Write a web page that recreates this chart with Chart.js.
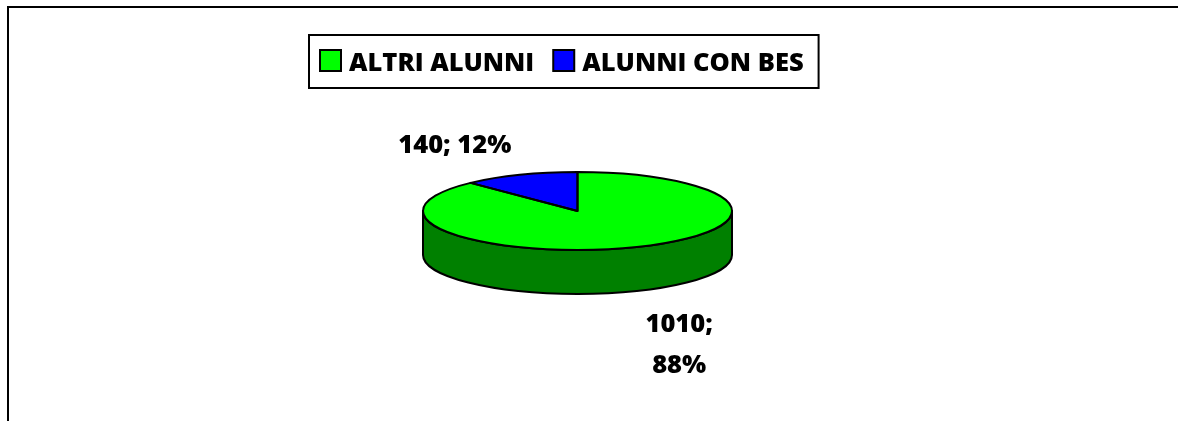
<!DOCTYPE html>
<html>
<head>
<meta charset="utf-8">
<script src="https://cdn.jsdelivr.net/npm/chart.js@4/dist/chart.umd.min.js"></script>
<style>
  html, body { margin: 0; padding: 0; background: #ffffff; overflow: hidden; }
  #wrap { width: 1178px; height: 421px; position: relative; }
  canvas { display: block; }
</style>
</head>
<body>
<div id="wrap"><canvas id="c" width="1178" height="421"></canvas></div>
<script>
// ---- data ----
const categories = ['ALTRI ALUNNI', 'ALUNNI CON BES'];
const values = [1010, 140];

// ---- styles ----
const topColors = ['#00FF00', '#0000FF'];
const sideColors = ['#008000', '#000080'];
const FONT = '800 25.5px "Open Sans", "Liberation Sans", sans-serif';
const TILT = 39 / 154.5;   // vertical squash of the pie
const DEPTH = 44;          // thickness of the 3D side
const labelWrap = [true, false];
const labelOffsets = [[44, 85], [-65, -22]]; // from slice mid point on rim (baseline of first line)
const LINE_H = 41;
const OUTLINE = 2;

const total = values.reduce((a, b) => a + b, 0);

function arcGeom(chart) {
  const meta = chart.getDatasetMeta(0);
  return meta.data.map(a => a.getProps(['x', 'y', 'startAngle', 'endAngle', 'outerRadius'], true));
}

const frame = {
  id: 'frame',
  beforeDraw(chart) {
    const ctx = chart.ctx;
    ctx.save();
    ctx.fillStyle = '#fff';
    ctx.fillRect(0, 0, chart.width, chart.height);
    ctx.fillStyle = '#000';
    ctx.fillRect(7, 6, chart.width - 7, 2);
    ctx.fillRect(7, 6, 2, chart.height - 6);
    ctx.restore();
  }
};

const pie3d = {
  id: 'pie3d',
  beforeDatasetsDraw(chart) {
    const ctx = chart.ctx;
    const arcs = arcGeom(chart);
    if (!arcs.length) return;
    const cx = arcs[0].x, cy = arcs[0].y, r = arcs[0].outerRadius, ry = r * TILT;
    ctx.save();
    arcs.forEach((a, i) => {
      [-2 * Math.PI, 0, 2 * Math.PI].forEach(m => {
        const lo = Math.max(a.startAngle, m), hi = Math.min(a.endAngle, m + Math.PI);
        if (lo < hi) {
          ctx.beginPath();
          ctx.ellipse(cx, cy, r, ry, 0, lo, hi);
          ctx.ellipse(cx, cy + DEPTH, r, ry, 0, hi, lo, true);
          ctx.closePath();
          ctx.fillStyle = sideColors[i];
          ctx.fill();
          ctx.lineWidth = OUTLINE;
          ctx.strokeStyle = '#000';
          ctx.lineJoin = 'round';
          ctx.stroke();
        }
      });
    });
    ctx.restore();
    ctx.save();
    ctx.translate(cx, cy);
    ctx.scale(1, TILT);
    ctx.translate(-cx, -cy);
  },
  afterDatasetsDraw(chart) {
    const ctx = chart.ctx;
    ctx.restore();
    const arcs = arcGeom(chart);
    if (!arcs.length) return;
    const cx = arcs[0].x, cy = arcs[0].y, r = arcs[0].outerRadius, ry = r * TILT;
    ctx.save();
    ctx.strokeStyle = '#000';
    ctx.lineWidth = OUTLINE;
    ctx.lineJoin = 'round';
    arcs.forEach(a => {
      ctx.beginPath();
      ctx.moveTo(cx, cy);
      ctx.ellipse(cx, cy, r, ry, 0, a.startAngle, a.endAngle);
      ctx.closePath();
      ctx.stroke();
    });
    ctx.font = FONT;
    ctx.fillStyle = '#000';
    ctx.textAlign = 'center';
    ctx.textBaseline = 'alphabetic';
    arcs.forEach((a, i) => {
      const mid = (a.startAngle + a.endAngle) / 2;
      const px = cx + r * Math.cos(mid), py = cy + ry * Math.sin(mid);
      const pct = Math.round(values[i] / total * 100) + '%';
      const lines = labelWrap[i] ? [values[i] + ';', pct] : [values[i] + '; ' + pct];
      lines.forEach((t, j) => {
        ctx.fillText(t, px + labelOffsets[i][0], py + labelOffsets[i][1] + j * LINE_H);
      });
    });
    ctx.restore();
  }
};

const legendBox = {
  id: 'legendBox',
  afterDraw(chart) {
    const ctx = chart.ctx;
    ctx.save();
    ctx.font = FONT;
    const sw = 21, gapT = 8, gapI = 19, padL = 11, padR = 15;
    const widths = categories.map(c => ctx.measureText(c).width);
    let w = padL + padR;
    widths.forEach((tw, i) => { w += sw + gapT + tw + (i < widths.length - 1 ? gapI : 0); });
    const left = 309, top = 35, h = 53;
    ctx.fillStyle = '#fff';
    ctx.fillRect(left, top, w, h);
    ctx.lineWidth = 2;
    ctx.strokeStyle = '#000';
    ctx.strokeRect(left, top, w, h);
    let x = left + padL;
    categories.forEach((c, i) => {
      ctx.fillStyle = topColors[i];
      ctx.fillRect(x, 50, sw, sw);
      ctx.lineWidth = 2;
      ctx.strokeStyle = '#000';
      ctx.strokeRect(x, 50, sw, sw);
      x += sw + gapT;
      ctx.fillStyle = '#000';
      ctx.textAlign = 'left';
      ctx.textBaseline = 'alphabetic';
      ctx.fillText(c, x, 71);
      x += widths[i] + gapI;
    });
    ctx.restore();
  }
};

new Chart(document.getElementById('c'), {
  type: 'pie',
  data: {
    labels: categories,
    datasets: [{
      data: values,
      backgroundColor: topColors,
      borderWidth: 0
    }]
  },
  options: {
    responsive: false,
    devicePixelRatio: 1,
    animation: false,
    radius: 154.5,
    layout: { padding: { left: 0, right: 23, top: 1, bottom: 0 } },
    plugins: {
      legend: { display: false },
      tooltip: { enabled: false },
      title: { display: false }
    }
  },
  plugins: [frame, pie3d, legendBox]
});
</script>
</body>
</html>
